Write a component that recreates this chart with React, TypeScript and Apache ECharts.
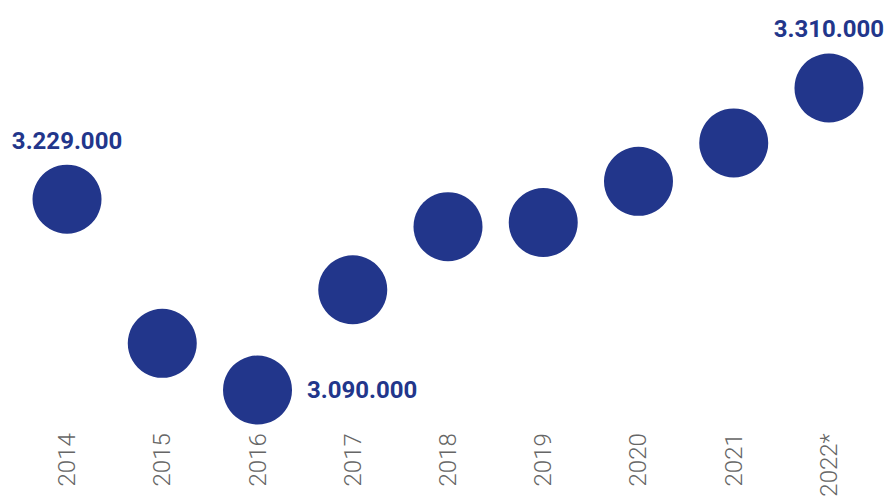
import React, { useEffect, useRef } from "react";
import * as echarts from "echarts";

const categories = ["2014", "2015", "2016", "2017", "2018", "2019", "2020", "2021", "2022*"];
const values = [3229000, 3124000, 3090000, 3163000, 3209000, 3212000, 3242000, 3270000, 3310000];
const labelPositions: (string | null)[] = ["top", null, "right", null, null, null, null, null, "top"];

const COLOR = "#22368B";

function fmt(v: number): string {
  return v.toString().replace(/\B(?=(\d{3})+(?!\d))/g, ".");
}

export default function App() {
  const ref = useRef<HTMLDivElement>(null);
  useEffect(() => {
    if (!ref.current) return;
    const chart = echarts.init(ref.current, undefined, { renderer: "svg" });
    const data = values.map((v, i) => {
      const pos = labelPositions[i];
      return {
        value: [categories[i], v],
        label: pos
          ? {
              show: true,
              position: pos,
              distance: pos === "top" ? 12 : 15,
              formatter: () => fmt(v),
            }
          : { show: false },
      };
    });
    chart.setOption({
      animation: false,
      grid: { left: 19.4, right: 11.4, top: 46.8, bottom: 68.8, containLabel: false },
      xAxis: {
        type: "category",
        data: categories,
        boundaryGap: true,
        axisLine: { show: false },
        axisTick: { show: false },
        splitLine: { show: false },
        axisLabel: {
          rotate: 90,
          margin: 2,
          color: "#666666",
          fontFamily: "Roboto",
          fontWeight: 300,
          fontSize: 24,
        },
      },
      yAxis: {
        type: "value",
        min: 3060000,
        max: 3340000,
        show: false,
      },
      series: [
        {
          type: "scatter",
          symbol: "circle",
          symbolSize: 69,
          itemStyle: { color: COLOR, opacity: 1 },
          emphasis: { disabled: true },
          label: {
            color: COLOR,
            fontFamily: "Roboto",
            fontWeight: "bold",
            fontSize: 24,
          },
          data,
        },
      ],
    });
    return () => chart.dispose();
  }, []);
  return (
    <div
      ref={ref}
      style={{ position: "absolute", left: 0, top: 0, width: 888, height: 500, background: "#fff" }}
    />
  );
}
